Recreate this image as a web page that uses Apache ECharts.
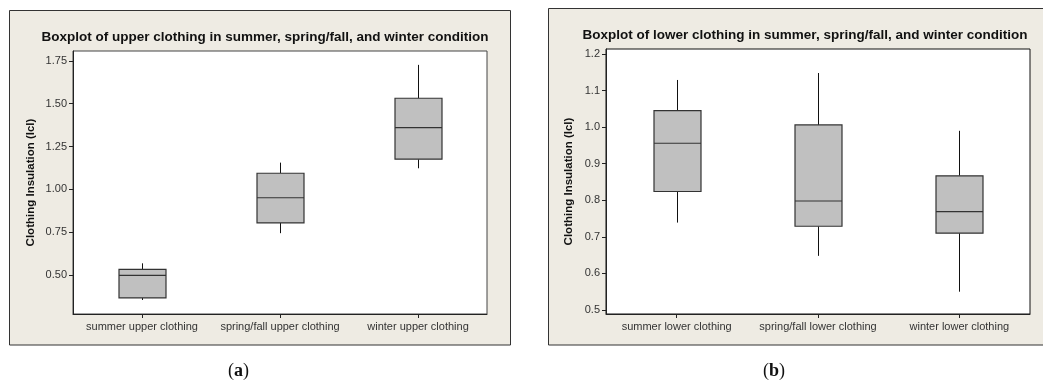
<!DOCTYPE html>
<html>
<head>
<meta charset="utf-8">
<script src="https://cdn.jsdelivr.net/npm/echarts@6/dist/echarts.min.js"></script>
<style>
  html, body { margin: 0; padding: 0; background: #ffffff; }
  #chart { width: 1043px; height: 388px; }
</style>
</head>
<body>
<div id="chart"></div>
<script>
// Categories for each panel
const upperCategories = ['summer upper clothing', 'spring/fall upper clothing', 'winter upper clothing'];
const lowerCategories = ['summer lower clothing', 'spring/fall lower clothing', 'winter lower clothing'];

// Five-number summaries: [lower whisker, Q1, median, Q3, upper whisker]
const upperStats = [
  [0.354, 0.366, 0.497, 0.533, 0.568],
  [0.744, 0.804, 0.951, 1.094, 1.156],
  [1.123, 1.176, 1.360, 1.532, 1.727]
];
const lowerStats = [
  [0.739, 0.824, 0.956, 1.045, 1.129],
  [0.648, 0.729, 0.798, 1.006, 1.148],
  [0.550, 0.710, 0.769, 0.867, 0.990]
];

// Tick labels on the value axes
const upperTicks = [0.50, 0.75, 1.00, 1.25, 1.50, 1.75];
const lowerTicks = [0.5, 0.6, 0.7, 0.8, 0.9, 1.0, 1.1, 1.2];

const titles = [
  'Boxplot of upper clothing in summer, spring/fall, and winter condition',
  'Boxplot of lower clothing in summer, spring/fall, and winter condition'
];
const yName = 'Clothing Insulation (Icl)';

const FONT = 'Liberation Sans, Arial, sans-serif';
const PANEL_BG = '#eeebe3';

// One box-and-whisker glyph, placed through the grid's own scales
function boxItem(params, api) {
  const cat = api.value(0);
  const lo = api.coord([cat, api.value(1)]);
  const q1 = api.coord([cat, api.value(2)]);
  const med = api.coord([cat, api.value(3)]);
  const q3 = api.coord([cat, api.value(4)]);
  const hi = api.coord([cat, api.value(5)]);
  const half = 23.5;
  const x = Math.round(lo[0]) + 0.5;
  return {
    type: 'group',
    children: [
      { type: 'line', shape: { x1: x, y1: hi[1], x2: x, y2: q3[1] },
        style: { stroke: '#111', lineWidth: 1 } },
      { type: 'line', shape: { x1: x, y1: q1[1], x2: x, y2: lo[1] },
        style: { stroke: '#111', lineWidth: 1 } },
      { type: 'rect', shape: { x: x - half, y: q3[1], width: half * 2, height: q1[1] - q3[1] },
        style: { fill: '#c0c0c0', stroke: '#333', lineWidth: 1.2 } },
      { type: 'line', shape: { x1: x - half, y1: med[1], x2: x + half, y2: med[1] },
        style: { stroke: '#333', lineWidth: 1.2 } }
    ]
  };
}

function toRows(stats) {
  return stats.map((s, i) => [i].concat(s));
}

const chart = echarts.init(document.getElementById('chart'), null, { renderer: 'canvas' });

const catAxis = (idx, cats) => ({
  type: 'category',
  gridIndex: idx,
  data: cats,
  boundaryGap: true,
  axisLine: { show: true, lineStyle: { color: '#222', width: 1 } },
  axisTick: { show: true, alignWithLabel: true, interval: 0, length: 4, lineStyle: { color: '#222' } },
  axisLabel: { color: '#333', fontFamily: FONT, fontSize: 11, margin: 7, interval: 0 },
  splitLine: { show: false }
});

const valAxis = (idx, min, max, ticks, digits, gap) => ({
  type: 'value',
  gridIndex: idx,
  min: min,
  max: max,
  name: yName,
  nameLocation: 'middle',
  nameRotate: 90,
  nameGap: gap,
  nameTextStyle: { fontFamily: FONT, fontSize: 11.5, fontWeight: 'bold', color: '#111' },
  axisLine: { show: true, lineStyle: { color: '#222', width: 1 } },
  axisTick: { show: true, length: 4, customValues: ticks, lineStyle: { color: '#222' } },
  axisLabel: { color: '#333', fontFamily: FONT, fontSize: 11, margin: 6,
    customValues: ticks, formatter: v => Number(v).toFixed(digits) },
  splitLine: { show: false }
});

const captionStyle = (letter) => ({
  text: '({b|' + letter + '})',
  font: '18px "Liberation Serif", serif',
  fill: '#111',
  rich: { b: { fontWeight: 'bold', fontFamily: 'Liberation Serif', fontSize: 18 } }
});

chart.setOption({
  backgroundColor: '#ffffff',
  animation: false,
  graphic: [
    { type: 'rect', z: -10, shape: { x: 9.5, y: 10.5, width: 501, height: 334.5 },
      style: { fill: PANEL_BG, stroke: '#333', lineWidth: 1 } },
    { type: 'rect', z: -10, shape: { x: 548.5, y: 8.5, width: 510, height: 336.5 },
      style: { fill: PANEL_BG, stroke: '#333', lineWidth: 1 } },
    { type: 'text', left: 228, top: 362, style: captionStyle('a') },
    { type: 'text', left: 763, top: 362, style: captionStyle('b') }
  ],
  title: [
    { text: titles[0], left: 260, top: 25, textAlign: 'center',
      textStyle: { fontFamily: FONT, fontSize: 13.5, fontWeight: 'bold', color: '#111' } },
    { text: titles[1], left: 800, top: 23, textAlign: 'center',
      textStyle: { fontFamily: FONT, fontSize: 13.5, fontWeight: 'bold', color: '#111' } }
  ],
  grid: [
    { left: 73, top: 51, width: 414, height: 263, show: true,
      backgroundColor: '#ffffff', borderColor: '#444', borderWidth: 1 },
    { left: 606, top: 49, width: 424, height: 265, show: true,
      backgroundColor: '#ffffff', borderColor: '#111', borderWidth: 1 }
  ],
  xAxis: [catAxis(0, upperCategories), catAxis(1, lowerCategories)],
  yAxis: [
    valAxis(0, 0.272, 1.808, upperTicks, 2, 36),
    valAxis(1, 0.489, 1.2137, lowerTicks, 1, 31)
  ],
  series: [
    { type: 'custom', xAxisIndex: 0, yAxisIndex: 0, renderItem: boxItem,
      encode: { x: 0, y: [1, 2, 3, 4, 5] }, data: toRows(upperStats) },
    { type: 'custom', xAxisIndex: 1, yAxisIndex: 1, renderItem: boxItem,
      encode: { x: 0, y: [1, 2, 3, 4, 5] }, data: toRows(lowerStats) }
  ]
});
</script>
</body>
</html>
